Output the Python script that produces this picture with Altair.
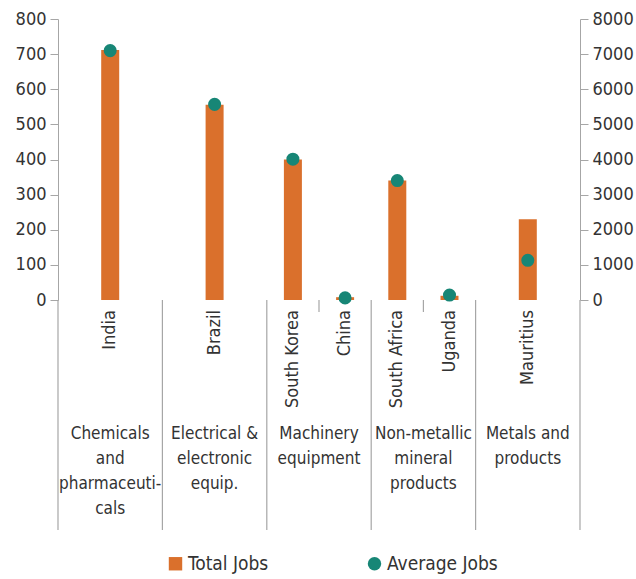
import altair as alt
import pandas as pd

# Sector groups and the countries shown under each one
sectors = [
    "Chemicals\nand\npharmaceuti-\ncals",
    "Electrical &\nelectronic\nequip.",
    "Machinery\nequipment",
    "Non-metallic\nmineral\nproducts",
    "Metals and\nproducts",
]
countries = ["India", "Brazil", "South Korea", "China", "South Africa", "Uganda", "Mauritius"]
country_sector = [0, 1, 2, 2, 3, 3, 4]
total_jobs = [712, 556, 400, 8, 340, 12, 230]
average_jobs = [7100, 5570, 4010, 60, 3400, 140, 1130]

ORANGE = "#DA702C"
TEAL = "#178676"
GREY = "#A6A6A6"
TEXT = "#333333"
FONT = "DejaVu Sans Condensed, DejaVu Sans, sans-serif"

W, H = 522, 281

# Place each country inside its sector: evenly spread within a unit-wide slot
pos = []
for i, s in enumerate(country_sector):
    members = [j for j, t in enumerate(country_sector) if t == s]
    k = members.index(i)
    pos.append(s + (k + 0.5) / len(members))

df = pd.DataFrame({
    "country": countries,
    "pos": pos,
    "total": total_jobs,
    "average": average_jobs,
})
sector_df = pd.DataFrame({"sector": sectors, "center": [i + 0.5 for i in range(len(sectors))]})
bounds_df = pd.DataFrame({"b": list(range(len(sectors) + 1))})
pair_df = pd.DataFrame({
    "m": [s + 0.5 for s in range(len(sectors)) if country_sector.count(s) == 2]
})

xscale = alt.Scale(domain=[0, len(sectors)], nice=False, padding=0)
series_domain = ["Total Jobs", "Average Jobs"]
color_scale = alt.Scale(domain=series_domain, range=[ORANGE, TEAL])
shape_scale = alt.Scale(domain=series_domain, range=["square", "circle"])
legend = alt.Legend(
    title=None, orient="none", legendX=108, legendY=535, direction="horizontal",
    columnPadding=96, labelFontSize=19, labelFont=FONT, labelColor=TEXT,
    symbolSize=180, symbolStrokeWidth=0, labelOffset=3,
)

axis_style = dict(title=None, grid=False, tickSize=8, tickColor=GREY, domainColor=GREY,
                  labelPadding=4, labelFontSize=18, labelFont=FONT, labelColor=TEXT,
                  format="d")

bars = alt.Chart(df).transform_calculate(series="'Total Jobs'").mark_bar(size=18).encode(
    x=alt.X("pos:Q", scale=xscale,
            axis=alt.Axis(labels=False, ticks=False, grid=False, title=None,
                          domainColor=GREY, domainWidth=1.2)),
    y=alt.Y("total:Q", scale=alt.Scale(domain=[0, 800], nice=False),
            axis=alt.Axis(values=list(range(0, 801, 100)), **axis_style)),
    color=alt.Color("series:N", scale=color_scale, legend=legend),
    shape=alt.Shape("series:N", scale=shape_scale, legend=legend),
)

points = alt.Chart(df).transform_calculate(series="'Average Jobs'").mark_point(
    filled=True, size=170, opacity=1
).encode(
    x=alt.X("pos:Q", scale=xscale, axis=None),
    y=alt.Y("average:Q", scale=alt.Scale(domain=[0, 8000], nice=False),
            axis=alt.Axis(orient="right", values=list(range(0, 8001, 1000)), **axis_style)),
    color=alt.Color("series:N", scale=color_scale, legend=legend),
    shape=alt.Shape("series:N", scale=shape_scale, legend=legend),
)

dividers = alt.Chart(bounds_df).mark_rule(color=GREY, strokeWidth=1.2, clip=False).encode(
    x=alt.X("b:Q", scale=xscale, axis=None),
    y=alt.value(H),
    y2=alt.value(H + 230),
)

pair_ticks = alt.Chart(pair_df).mark_rule(color=GREY, strokeWidth=1.2, clip=False).encode(
    x=alt.X("m:Q", scale=xscale, axis=None),
    y=alt.value(H),
    y2=alt.value(H + 12),
)

country_labels = alt.Chart(df).mark_text(
    angle=270, align="right", baseline="middle", fontSize=18, font=FONT, color=TEXT
).encode(
    x=alt.X("pos:Q", scale=xscale, axis=None),
    y=alt.value(H + 10),
    text="country:N",
)

sector_labels = alt.Chart(sector_df).mark_text(
    align="center", baseline="top", lineBreak="\n", lineHeight=25,
    fontSize=17, font=FONT, color=TEXT
).encode(
    x=alt.X("center:Q", scale=xscale, axis=None),
    y=alt.value(H + 126),
    text="sector:N",
)

chart = alt.layer(
    dividers, pair_ticks, bars, points, country_labels, sector_labels
).resolve_scale(y="independent").properties(
    width=W, height=H,
    padding={"left": 58, "top": 19, "right": 56, "bottom": 279},
    autosize=alt.AutoSizeParams(type="none"),
).configure_view(stroke=None)

chart.save("out.html", embed_options={"renderer": "svg", "actions": False})
